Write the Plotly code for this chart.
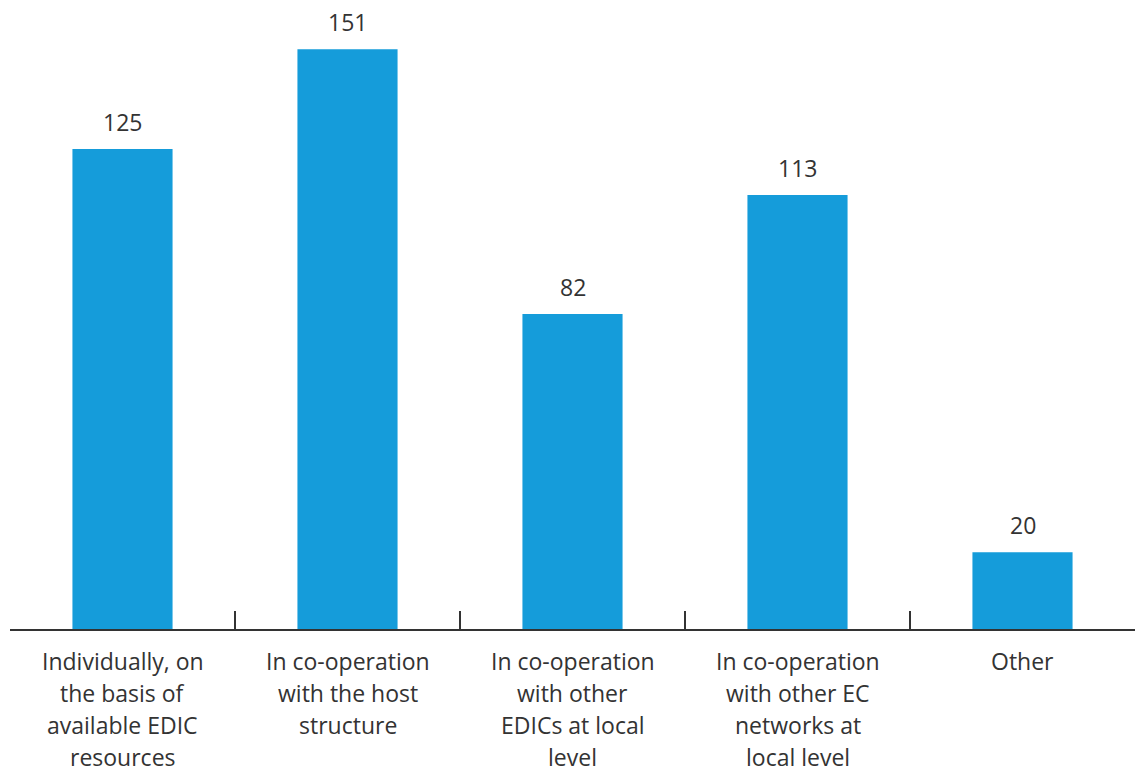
import plotly.graph_objects as go

categories = [
    "Individually, on<br>the basis of<br>available EDIC<br>resources",
    "In co-operation<br>with the host<br>structure",
    "In co-operation<br>with other<br>EDICs at local<br>level",
    "In co-operation<br>with other EC<br>networks at<br>local level",
    "Other",
]
values = [125, 151, 82, 113, 20]

BAR_COLOR = "#159cda"
TEXT_COLOR = "#333333"
FONT = "Open Sans"
LINE_STEP = 32  # pixel spacing between lines of a category label

fig = go.Figure(
    go.Bar(
        x=categories,
        y=values,
        marker=dict(color=BAR_COLOR, line=dict(width=0)),
        hoverinfo="skip",
    )
)

# value labels above each bar
for cat, val in zip(categories, values):
    fig.add_annotation(
        x=cat, y=val, text=str(val), showarrow=False,
        yanchor="bottom", yshift=9,
        font=dict(family=FONT, size=23, color=TEXT_COLOR),
    )

# category labels below the axis, one annotation per line for wider leading
for cat in categories:
    for i, line in enumerate(cat.split("<br>")):
        fig.add_annotation(
            x=cat, y=0, text=line, showarrow=False,
            yanchor="middle", yshift=-(32 + LINE_STEP * i), borderpad=0,
            font=dict(family=FONT, size=23, color=TEXT_COLOR),
        )

fig.update_layout(
    width=1135, height=773,
    margin=dict(l=10, r=0, t=0, b=144),
    plot_bgcolor="white", paper_bgcolor="white",
    bargap=0.555,
    showlegend=False,
    font=dict(family=FONT, size=23, color=TEXT_COLOR),
)
fig.update_xaxes(
    showline=True, linewidth=2, linecolor=TEXT_COLOR,
    ticks="inside", tickson="boundaries", ticklen=18, tickwidth=2,
    tickcolor=TEXT_COLOR, showgrid=False, showticklabels=False,
)
fig.update_yaxes(visible=False, range=[0, 163.8], showgrid=False, zeroline=False)

fig.write_html("out.html")
